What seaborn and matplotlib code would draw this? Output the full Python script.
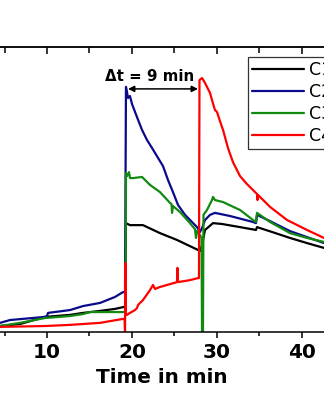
import matplotlib
matplotlib.use("Agg")
import matplotlib.pyplot as plt
import numpy as np
import pandas as pd
import seaborn as sns
from matplotlib.ticker import MultipleLocator
from matplotlib.lines import Line2D

# ---------------- data ----------------
series_labels = ["C1", "C2", "C3", "C4"]
series_colors = ["#000000", "#0a0a8c", "#128a12", "#ff0000"]

black_t = [4.47, 6.82, 9.76, 12.71, 14.24, 16.24, 18.0, 19.06, 19.18, 19.29, 19.76,
           21.29, 23.29, 25.29, 27.76, 28.0, 28.24, 28.59, 29.53, 30.59, 32.71,
           34.59, 34.71, 36.47, 38.59, 40.59, 42.59]
black_v = [2.1, 2.8, 5.3, 6.0, 6.7, 7.4, 8.1, 8.8, 8.8, 38.2, 37.5,
           37.5, 34.7, 32.3, 28.8, 28.4, 30.5, 35.8, 38.2, 37.9, 36.8,
           35.8, 36.8, 35.1, 33.0, 31.2, 29.5]

blue_t = [4.47, 5.65, 9.76, 10.0, 10.12, 12.71, 14.24, 16.24, 18.0, 18.94, 19.18,
          19.29, 19.41, 19.53, 19.76, 20.0, 20.59, 21.18, 21.76, 22.35, 23.06,
          23.65, 24.24, 24.82, 25.41, 26.24, 27.06, 27.65, 28.0, 28.24, 28.59,
          29.18, 29.76, 31.53, 34.24, 34.59, 34.71, 36.24, 38.59, 40.59, 42.59]
blue_v = [3.2, 4.2, 5.3, 5.6, 6.7, 7.7, 9.1, 10.2, 12.3, 14.0, 14.0,
          86.0, 84.2, 82.1, 82.8, 80.0, 75.4, 70.9, 67.4, 64.6, 61.1,
          58.2, 53.3, 49.1, 44.6, 41.1, 38.6, 36.8, 35.1, 36.5, 39.3,
          41.1, 41.8, 40.7, 38.6, 38.2, 41.1, 38.9, 35.4, 33.3, 31.2]

green_t = [4.47, 6.82, 9.76, 12.71, 14.24, 15.06, 19.06, 19.24, 19.29, 19.41, 19.65,
           19.76, 20.12, 21.18, 22.12, 23.29, 24.47, 24.65, 24.71, 24.82, 25.65,
           26.82, 27.41, 27.53, 27.65, 28.0, 28.18, 28.24, 28.35, 28.41, 28.82,
           29.41, 29.53, 29.76, 30.71, 32.71, 34.24, 34.59, 34.71, 36.24, 38.59,
           40.59, 42.59]
green_v = [2.1, 3.2, 4.9, 5.6, 6.3, 7.0, 7.0, 7.0, 55.8, 54.7, 56.1,
           54.0, 54.0, 54.4, 51.6, 49.1, 45.3, 44.9, 41.8, 44.2, 42.1,
           38.2, 36.1, 33.0, 35.4, 34.0, 33.0, 0.0, 0.0, 41.1, 42.8,
           46.3, 47.4, 46.3, 45.6, 42.8, 39.3, 38.6, 41.8, 38.6, 34.7,
           33.0, 31.6]

red_t = [4.47, 9.76, 12.71, 16.24, 18.94, 19.12, 19.18, 19.24, 19.29, 19.41, 19.76,
         20.35, 20.59, 20.71, 21.29, 22.12, 22.47, 22.71, 23.29, 24.47, 25.29,
         25.35, 25.41, 26.82, 27.76, 27.88, 27.94, 28.24, 28.59, 28.82, 29.18,
         29.41, 29.76, 30.0, 30.35, 30.71, 31.29, 31.88, 32.71, 33.53, 34.24,
         34.71, 34.76, 34.82, 36.24, 38.24, 40.59, 42.59]
red_v = [1.8, 2.1, 2.5, 3.2, 4.6, 4.6, 0.0, 24.2, 6.0, 6.0, 6.7,
         7.7, 8.4, 9.5, 11.2, 14.7, 16.5, 15.1, 15.8, 16.8, 17.5,
         22.5, 17.5, 18.2, 18.9, 18.9, 88.4, 89.1, 87.4, 86.0, 83.9,
         81.4, 77.9, 77.2, 74.0, 70.9, 64.6, 59.6, 54.7, 51.9, 49.8,
         48.4, 46.3, 48.1, 43.9, 39.3, 35.8, 33.0]

x_ticks = [10, 20, 30, 40]
x_label = "Time in min"
delta_text = "\u0394t = 9 min"
delta_start, delta_end, delta_level = 19.53, 27.76, 85.3

# ---------------- build the long table ----------------
frames = []
for lab, t, v in zip(series_labels,
                     [black_t, blue_t, green_t, red_t],
                     [black_v, blue_v, green_v, red_v]):
    frames.append(pd.DataFrame({"time": t, "value": v, "series": lab}))
df = pd.concat(frames, ignore_index=True)

sns.set_theme(style="white")
plt.rcParams["font.family"] = ["DejaVu Sans"]
plt.rcParams["text.color"] = "black"
plt.rcParams["axes.labelcolor"] = "black"
plt.rcParams["xtick.color"] = "black"

fig = plt.figure(figsize=(3.24, 4.0), dpi=100)
ax = fig.add_axes([0.0, 68 / 400, 1.0, 285 / 400])

sns.lineplot(data=df, x="time", y="value", hue="series", units="series",
             estimator=None, sort=False, palette=dict(zip(series_labels, series_colors)),
             linewidth=1.6, legend=False, ax=ax)

ax.set_xlim(4.47, 42.59)
ax.set_ylim(0, 100)
ax.set_yticks([])
ax.set_ylabel("")
ax.set_xlabel(x_label, fontsize=14.4, fontweight="bold", labelpad=4, color="black")
ax.xaxis.set_minor_locator(MultipleLocator(5))
ax.set_xticks(x_ticks)
ax.set_xticklabels([str(v) for v in x_ticks], fontsize=14.4, fontweight="bold",
                   color="black")

for side in ["left", "right"]:
    ax.spines[side].set_visible(False)
for side in ["top", "bottom"]:
    ax.spines[side].set_visible(True)
    ax.spines[side].set_color("black")
    ax.spines[side].set_linewidth(1.1)

ax.tick_params(axis="x", which="major", direction="out", length=4, width=1.1,
               color="black", labelcolor="black", pad=4, bottom=True, top=False)
ax.tick_params(axis="x", which="minor", direction="out", length=3, width=1.1,
               color="black", bottom=True, top=False)

sec = ax.secondary_xaxis("top")
sec.xaxis.set_major_locator(MultipleLocator(10))
sec.xaxis.set_minor_locator(MultipleLocator(5))
sec.tick_params(axis="x", which="major", direction="in", length=5, width=1.1,
                color="black", labeltop=False)
sec.tick_params(axis="x", which="minor", direction="in", length=4, width=1.1,
                color="black")
sec.spines["top"].set_linewidth(1.1)

# annotation
ax.annotate("", xy=(delta_end, delta_level), xytext=(delta_start, delta_level),
            arrowprops=dict(arrowstyle="<|-|>", color="black", lw=1.1,
                            mutation_scale=9, shrinkA=0, shrinkB=0))
ax.text((delta_start + delta_end) / 2 - 1.6, delta_level + 4.2, delta_text,
        fontsize=10.8, fontweight="bold", ha="center", va="center", color="black")

handles = [Line2D([0], [0], color=c, lw=1.6) for c in series_colors]
leg = fig.legend(handles, series_labels, loc="upper left",
                 bbox_to_anchor=(248 / 324, 1 - 57 / 400), fontsize=12.5,
                 frameon=True, fancybox=False, handlelength=2.95, handletextpad=0.3,
                 labelspacing=0.22, borderpad=0.25, borderaxespad=0)
leg.get_frame().set_edgecolor("black")
leg.get_frame().set_linewidth(0.9)
leg.get_frame().set_facecolor("white")
for txt in leg.get_texts():
    txt.set_color("black")

fig.savefig("out.png", dpi=100)
